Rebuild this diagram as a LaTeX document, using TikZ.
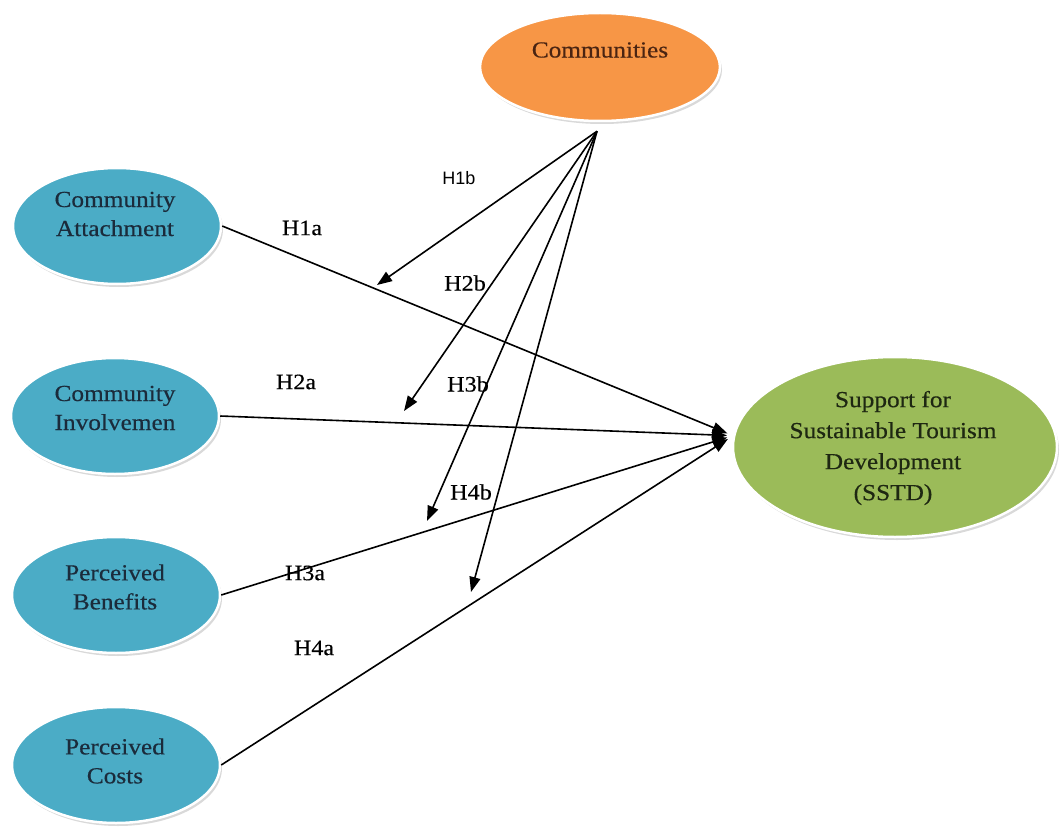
\documentclass[tikz,border=0pt]{standalone}
\usepackage{fontspec}
\setmainfont{Liberation Serif}
\newfontfamily\nodefont[FakeStretch=1.1,FakeBold=0.4]{Liberation Serif}
\newfontfamily\hsans{Liberation Sans}
\usetikzlibrary{shapes.geometric,arrows.meta,shadows,calc}

\definecolor{aquafill}{HTML}{4BACC6}
\definecolor{orangefill}{HTML}{F79646}
\definecolor{greenfill}{HTML}{9BBB59}
\definecolor{navytext}{HTML}{1B2B3B}
\definecolor{browntext}{HTML}{4A2412}
\definecolor{olivetext}{HTML}{1E2712}

\tikzset{
  bubble/.style={ellipse, draw=white, line width=2.5pt, inner sep=0pt,
    drop shadow={shadow xshift=2pt, shadow yshift=-3pt, opacity=0.25, fill=black!60}},
  predictor/.style={bubble, fill=aquafill, minimum width=208pt, minimum height=116pt},
  moderator/.style={bubble, fill=orangefill, minimum width=240pt, minimum height=108pt},
  outcome/.style={bubble, fill=greenfill, minimum width=324pt, minimum height=180pt},
  caption/.style={font=\nodefont\fontsize{23}{29}\selectfont, align=center, inner sep=0pt},
  hyp/.style={font=\nodefont\fontsize{22}{24}\selectfont, inner sep=1pt},
  path/.style={line width=1.6pt, -{Triangle[length=15pt,width=11pt]}},
}

\begin{document}
\begin{tikzpicture}[x=1pt,y=-1pt]
\useasboundingbox (0,0) rectangle (1060,832);

% construct ellipses
\node[moderator] (comm) at (600,67) {};
\node[predictor] (ca) at (117,226) {};
\node[predictor] (ci) at (115,416) {};
\node[predictor] (pb) at (116,595) {};
\node[predictor] (pc) at (116,765) {};
\node[outcome]   (sstd) at (895,447) {};

% captions
\node[caption, text=browntext] (comm-t) at (600,50) {Communities};
\node[caption, text=navytext] (ca-t) at (115,214) {Community\\Attachment};
\node[caption, text=navytext] (ci-t) at (115,408) {Community\\Involvemen};
\node[caption, text=navytext] (pb-t) at (115,587) {Perceived\\Benefits};
\node[caption, text=navytext] (pc-t) at (115,761) {Perceived\\Costs};
\node[caption, text=olivetext, font=\nodefont\fontsize{23}{31}\selectfont] (sstd-t) at (893,448)
  {Support for\\Sustainable Tourism\\Development\\(SSTD)};

% moderating paths start just below the Communities ellipse
\coordinate (hub) at ($(comm.south)+(-3,9)$);
\coordinate (m1) at (377,285);
\coordinate (m2) at (404,411);
\coordinate (m3) at (427,521);
\coordinate (m4) at (471,592);

% direct paths
\draw[path, shorten >=6pt] (ca.east) -- (sstd.176);
\draw[path, shorten >=6pt] (ci.east) -- (sstd.176);
\draw[path, shorten >=6pt] (pb.east) -- (sstd.176);
\draw[path, shorten >=6pt] (pc.east) -- (sstd.176);

% moderating paths
\draw[path] (hub) -- (m1);
\draw[path] (hub) -- (m2);
\draw[path] (hub) -- (m3);
\draw[path] (hub) -- (m4);

% hypothesis labels
\node[hyp, font=\hsans\fontsize{18}{20}\selectfont] (h1b) at (459,178) {H1b};
\node[hyp] (h1a) at (302,228) {H1a};
\node[hyp] (h2b) at (465,283) {H2b};
\node[hyp] (h2a) at (296,382) {H2a};
\node[hyp] (h3b) at (468,384) {H3b};
\node[hyp] (h4b) at (471,492) {H4b};
\node[hyp] (h3a) at (305,573) {H3a};
\node[hyp] (h4a) at (314,648) {H4a};
\end{tikzpicture}
\end{document}
